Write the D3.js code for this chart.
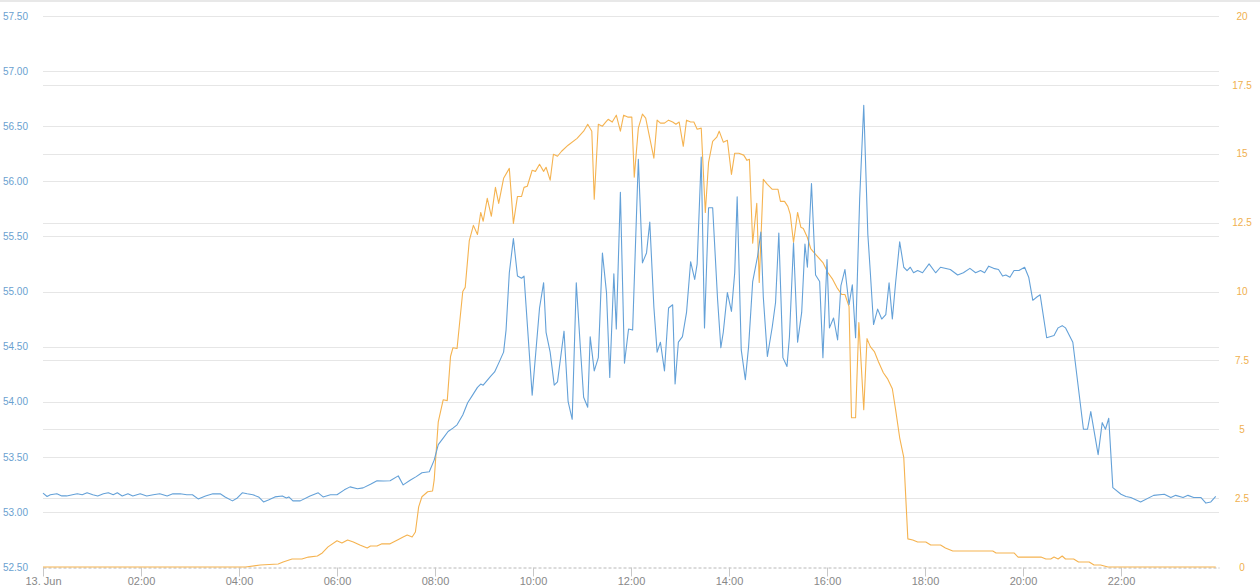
<!DOCTYPE html>
<meta charset="utf-8">
<style>
	body {
		margin: 0;
		background: #ffffff;
	}
	svg {
		font-family: "Open Sans", sans-serif;
	}
	.grid line {
		stroke: #e6e6e6;
		shape-rendering: crispEdges;
	}
	.yleft text {
		fill: #6a9fd0;
		font-size: 10px;
	}
	.yright text {
		fill: #f0b04e;
		font-size: 10px;
	}
	.xaxis text {
		fill: #888888;
		font-size: 11px;
	}
	.xaxis .tick line {
		stroke: #c8c8c8;
	}
	.xaxis .domain {
		stroke: #b8b8b8;
		stroke-dasharray: 3,2;
	}
	.line {
		fill: none;
		stroke-width: 1.1;
		stroke-linejoin: round;
	}
</style>
<svg></svg>
<script src="https://cdnjs.cloudflare.com/ajax/libs/d3/7.8.5/d3.min.js"></script>
<script>
	// minutes since 00:00 on 13 Jun, value
	var blueSeries = [
		[0,53.17],[5,53.14],[9,53.155],[17,53.164],[23,53.145],[29,53.145],[36,53.155],[42,53.164],[48,53.155],[54,53.173],
		[61,53.155],[67,53.145],[74,53.164],[80,53.173],[86,53.155],[91,53.173],[97,53.145],[104,53.164],[110,53.145],[119,53.164],
		[127,53.145],[135,53.155],[143,53.164],[152,53.145],[159,53.164],[168,53.164],[176,53.155],[183,53.155],[190,53.118],[199,53.145],
		[208,53.164],[217,53.164],[223,53.136],[232,53.10],[238,53.127],[244,53.173],[250,53.164],[257,53.155],[264,53.136],[270,53.09],
		[276,53.109],[284,53.136],[293,53.145],[298,53.127],[301,53.136],[306,53.10],[315,53.10],[327,53.145],[337,53.173],[343,53.136],
		[352,53.155],[360,53.155],[369,53.20],[376,53.227],[385,53.21],[392,53.218],[401,53.25],[409,53.282],[417,53.28],[425,53.282],
		[435,53.327],[441,53.245],[450,53.29],[457,53.32],[464,53.355],[473,53.364],[479,53.47],[484,53.61],[490,53.67],[496,53.73],
		[502,53.76],[507,53.79],[514,53.88],[520,53.99],[526,54.06],[532,54.13],[536,54.16],[539,54.15],[548,54.23],[553,54.27],
		[558,54.35],[564,54.45],[567,54.65],[571,55.17],[576,55.48],[581,55.14],[586,55.12],[589,55.14],[599,54.06],[608,54.85],
		[613,55.08],[616,54.63],[621,54.45],[626,54.15],[630,54.18],[638,54.64],[643,54.00],[648,53.84],[653,55.08],[658,54.49],
		[662,54.04],[667,53.95],[670,54.59],[675,54.28],[680,54.40],[685,55.35],[690,54.99],[694,54.22],[699,55.16],[702,54.66],
		[707,55.90],[712,54.35],[717,54.66],[722,54.65],[729,56.20],[734,55.26],[739,55.35],[743,55.63],[748,54.86],[752,54.45],
		[756,54.54],[761,54.28],[766,54.85],[771,54.88],[774,54.16],[778,54.54],[783,54.59],[788,54.81],[793,55.27],[798,55.11],
		[801,55.25],[806,56.22],[810,54.67],[815,55.76],[820,55.76],[826,54.93],[830,54.49],[833,54.63],[838,54.99],[843,54.82],
		[847,55.17],[850,55.86],[855,54.47],[860,54.20],[864,54.50],[869,55.09],[875,55.32],[879,55.54],[882,54.95],[887,54.41],
		[893,54.68],[897,54.90],[901,55.53],[906,54.40],[911,54.32],[914,54.59],[919,55.44],[924,54.54],[929,54.81],[933,55.43],
		[936,55.22],[941,55.98],[946,55.15],[951,55.09],[955,54.40],[960,55.29],[963,54.67],[968,54.76],[973,54.56],[977,55.05],
		[982,55.20],[987,54.88],[991,55.06],[995,54.58],[1000,55.84],[1005,56.69],[1010,55.52],[1013,55.18],[1017,54.70],[1022,54.84],
		[1027,54.75],[1032,54.79],[1036,55.08],[1040,54.75],[1044,55.08],[1049,55.45],[1054,55.22],[1058,55.19],[1062,55.22],[1066,55.17],
		[1071,55.19],[1077,55.17],[1085,55.25],[1093,55.17],[1099,55.22],[1111,55.20],[1120,55.15],[1127,55.17],[1135,55.21],[1142,55.17],
		[1148,55.19],[1153,55.17],[1158,55.23],[1164,55.21],[1170,55.20],[1175,55.14],[1179,55.15],[1184,55.13],[1189,55.19],[1195,55.19],
		[1202,55.22],[1207,55.13],[1212,54.92],[1217,54.95],[1221,54.97],[1229,54.58],[1238,54.60],[1243,54.67],[1248,54.69],[1252,54.67],
		[1261,54.54],[1274,53.75],[1279,53.75],[1283,53.91],[1292,53.52],[1297,53.81],[1301,53.75],[1305,53.85],[1310,53.22],[1320,53.16],
		[1326,53.14],[1332,53.13],[1344,53.09],[1360,53.15],[1373,53.16],[1381,53.13],[1387,53.15],[1396,53.13],[1402,53.15],[1409,53.13],
		[1418,53.13],[1424,53.08],[1430,53.09],[1436,53.14]
	];

	var orangeSeries = [
		[0,0],[248,0],[266,0.07],[288,0.11],[294,0.18],[305,0.29],[317,0.29],[325,0.36],[336,0.40],[342,0.51],
		[349,0.73],[360,0.95],[366,0.87],[373,0.98],[380,0.91],[388,0.80],[397,0.69],[401,0.76],[409,0.76],[415,0.84],
		[425,0.84],[434,0.98],[441,1.09],[446,1.16],[452,1.09],[456,1.27],[460,2.18],[464,2.55],[471,2.73],[477,2.76],
		[479,3.16],[484,5.27],[490,6.07],[495,6.04],[499,7.64],[502,7.96],[507,7.93],[514,10.0],[517,10.15],[522,11.85],
		[527,12.40],[532,12.07],[536,12.87],[539,12.55],[544,13.38],[549,12.73],[554,13.78],[558,13.20],[564,14.11],[571,14.47],
		[576,12.47],[581,13.45],[586,13.45],[589,13.78],[593,13.82],[599,14.40],[603,14.36],[608,14.62],[613,14.36],[616,14.51],
		[621,14.04],[625,14.98],[630,14.91],[635,15.09],[643,15.31],[654,15.56],[662,15.82],[667,16.07],[672,15.82],[675,13.35],
		[680,16.07],[685,16.0],[689,16.15],[692,16.25],[697,16.15],[702,16.40],[707,15.82],[711,16.40],[716,16.33],[721,16.33],
		[724,14.15],[729,15.93],[734,16.44],[738,16.29],[748,14.84],[752,16.22],[756,16.11],[761,16.11],[766,16.22],[771,16.15],
		[775,16.07],[779,16.15],[784,15.27],[788,16.22],[793,16.15],[797,16.15],[801,15.89],[806,15.93],[811,12.87],[815,14.69],
		[820,15.45],[825,15.60],[828,15.82],[833,15.42],[838,15.49],[843,14.25],[847,15.02],[852,15.02],[858,14.95],[862,14.76],
		[865,14.80],[869,11.75],[874,13.20],[877,10.33],[882,14.07],[887,13.89],[893,13.71],[900,13.71],[903,13.27],[908,13.27],
		[912,13.09],[915,12.80],[919,11.78],[924,12.87],[928,12.33],[931,12.29],[936,11.96],[940,11.56],[946,11.35],[955,11.05],
		[961,10.69],[967,10.44],[972,10.15],[978,9.89],[982,9.89],[987,9.45],[990,5.42],[995,5.42],[999,8.87],[1005,5.71],
		[1009,8.29],[1013,8.0],[1018,7.82],[1023,7.45],[1029,7.05],[1034,6.84],[1040,6.47],[1044,5.71],[1049,4.69],[1054,3.98],
		[1059,1.02],[1065,0.98],[1071,0.91],[1081,0.91],[1087,0.80],[1099,0.80],[1105,0.69],[1114,0.58],[1163,0.58],[1167,0.51],
		[1189,0.51],[1194,0.36],[1222,0.36],[1228,0.29],[1234,0.29],[1238,0.36],[1243,0.29],[1248,0.40],[1252,0.29],[1262,0.29],
		[1268,0.18],[1281,0.18],[1287,0.07],[1295,0.07],[1304,0],[1436,0]
	];

	var leftTicks = [52.5, 53, 53.5, 54, 54.5, 55, 55.5, 56, 56.5, 57, 57.5];
	var rightTicks = [0, 2.5, 5, 7.5, 10, 12.5, 15, 17.5, 20];
	var timeTicks = [0, 120, 240, 360, 480, 600, 720, 840, 960, 1080, 1200, 1320];
	var timeLabels = ["13. Jun", "02:00", "04:00", "06:00", "08:00", "10:00", "12:00", "14:00", "16:00", "18:00", "20:00", "22:00"];

	var sizeSvg = { wt: 1260, ht: 588 };
	var plot = { left: 43, right: 1219, top: 16, bottom: 567 };
	var blueColor = "#64a1d8";
	var orangeColor = "#f5b350";

	var svg = d3.select("svg")
		.attr("width", sizeSvg.wt)
		.attr("height", sizeSvg.ht);

	// thin frame line along the top
	svg.append("line")
		.attr("x1", 0).attr("x2", sizeSvg.wt)
		.attr("y1", 1).attr("y2", 1)
		.style("stroke", "#e8e8e8")
		.style("stroke-width", 2);

	var xScale = d3.scaleLinear().domain([0, 1440]).range([plot.left, plot.right]);
	var yLeft = d3.scaleLinear().domain([52.5, 57.5]).range([plot.bottom, plot.top]);
	var yRight = d3.scaleLinear().domain([0, 20]).range([plot.bottom, plot.top]);

	// grid lines, one set per axis
	var grid = svg.append("g").attr("class", "grid");
	grid.selectAll(".gl").data(leftTicks.slice(1))
		.enter()
		.append("line")
		.attr("x1", plot.left).attr("x2", plot.right)
		.attr("y1", function (d){ return Math.round(yLeft(d)) + 0.5; })
		.attr("y2", function (d){ return Math.round(yLeft(d)) + 0.5; });
	grid.selectAll(".gr").data(rightTicks.slice(1))
		.enter()
		.append("line")
		.attr("x1", plot.left).attr("x2", plot.right)
		.attr("y1", function (d){ return Math.round(yRight(d)) + 0.5; })
		.attr("y2", function (d){ return Math.round(yRight(d)) + 0.5; });

	var yAxisLeft = d3.axisLeft(yLeft).tickValues(leftTicks).tickFormat(d3.format(".2f")).tickSize(0).tickPadding(0);
	svg.append("g").attr("class", "yleft")
		.attr("transform", "translate(28,0)")
		.call(yAxisLeft)
		.call(function (g){ g.select(".domain").remove(); });

	var yAxisRight = d3.axisRight(yRight).tickValues(rightTicks).tickFormat(function (d){ return String(d); }).tickSize(0).tickPadding(0);
	svg.append("g").attr("class", "yright")
		.attr("transform", "translate(1242,0)")
		.call(yAxisRight)
		.call(function (g){ g.select(".domain").remove(); })
		.selectAll("text").attr("text-anchor", "middle");

	var xAxis = d3.axisBottom(xScale).tickValues(timeTicks)
		.tickFormat(function (d, i){ return timeLabels[i]; })
		.tickSizeInner(9).tickSizeOuter(0).tickPadding(1);
	svg.append("g").attr("class", "xaxis")
		.attr("transform", "translate(0," + (plot.bottom + 0.5) + ")")
		.call(xAxis);

	var line = d3.line()
		.x(function (d){ return xScale(d[0]); });

	svg.append("path")
		.datum(orangeSeries)
		.attr("class", "line")
		.style("stroke", orangeColor)
		.attr("d", line.y(function (d){ return yRight(d[1]); }));

	svg.append("path")
		.datum(blueSeries)
		.attr("class", "line")
		.style("stroke", blueColor)
		.attr("d", line.y(function (d){ return yLeft(d[1]); }));
</script>
